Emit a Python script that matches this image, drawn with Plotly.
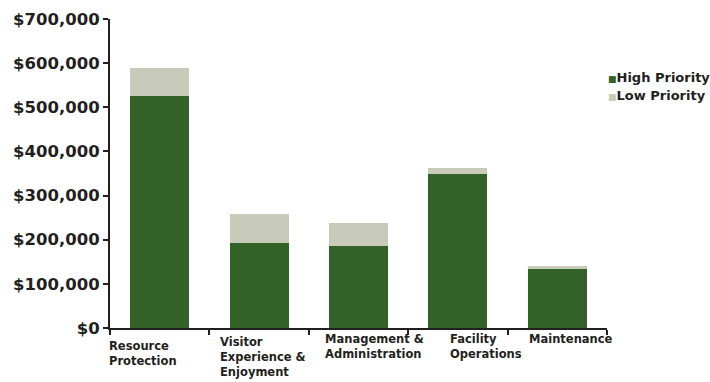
import plotly.graph_objects as go

# Funding needs by program area, split by priority
categories = ["Resource Protection", "Visitor Experience & Enjoyment",
              "Management & Administration", "Facility Operations", "Maintenance"]
category_labels = ["Resource<br>Protection", "Visitor<br>Experience &<br>Enjoyment",
                   "Management &<br>Administration", "Facility<br>Operations", "Maintenance"]
high_priority = [525000, 192000, 185000, 348000, 133000]
low_priority = [64000, 66000, 52000, 14000, 7000]
y_ticks = [0, 100000, 200000, 300000, 400000, 500000, 600000, 700000]

GREEN = "#336228"
GRAY = "#c8cbb9"
INK = "#231f20"
FONT = "DejaVu Sans"

fig = go.Figure()
fig.add_trace(go.Bar(x=categories, y=high_priority, name="High Priority",
                     marker=dict(color=GREEN, line=dict(width=0)), showlegend=False))
fig.add_trace(go.Bar(x=categories, y=low_priority, name="Low Priority",
                     marker=dict(color=GRAY, line=dict(width=0)), showlegend=False))

# Left-aligned category labels under the axis
label_xshift = [-53, -41, -35.5, -10, -30]
label_yshift = [-9, -5, -2, -2, -2]
for cat, text, dx, dy in zip(categories, category_labels, label_xshift, label_yshift):
    fig.add_annotation(x=cat, y=0, xref="x", yref="y", text=text, showarrow=False,
                       xanchor="left", yanchor="top", align="left",
                       xshift=dx, yshift=dy,
                       font=dict(family=FONT, size=11.5, color=INK, weight="bold"))

# Compact legend: small colored square followed by the series name
for i, (name, color) in enumerate([("High Priority", GREEN), ("Low Priority", GRAY)]):
    fig.add_annotation(x=1, y=1, xref="paper", yref="paper",
                       text=f"<span style='color:{color};font-size:9px'>■</span>{name}",
                       showarrow=False, xanchor="left", yanchor="middle",
                       xshift=-1, yshift=-58 - 18 * i,
                       font=dict(family=FONT, size=13, color=INK, weight="bold"))

fig.update_layout(
    barmode="stack",
    bargap=0.406,
    width=710, height=382,
    margin=dict(l=110, r=103, t=19, b=54, autoexpand=False),
    paper_bgcolor="white", plot_bgcolor="white",
    font=dict(family=FONT, color=INK),
)
fig.update_xaxes(range=[-0.5, len(categories) - 0.5], autorange=False,
                 showticklabels=False, tickson="boundaries", ticks="outside",
                 ticklen=5, tickwidth=1.5, tickcolor=INK, automargin=False,
                 showline=True, linecolor=INK, linewidth=2, showgrid=False,
                 zeroline=False)
fig.update_yaxes(range=[0, 700000], autorange=False, tickvals=y_ticks, tickformat="$,.0f",
                 ticks="outside", ticklen=5, tickwidth=1.5, tickcolor=INK,
                 showline=True, linecolor=INK, linewidth=2, showgrid=False,
                 zeroline=False, ticklabelstandoff=0, automargin=False,
                 tickfont=dict(family=FONT, size=16.5, color=INK, weight="bold"))

fig.write_html("out.html")
